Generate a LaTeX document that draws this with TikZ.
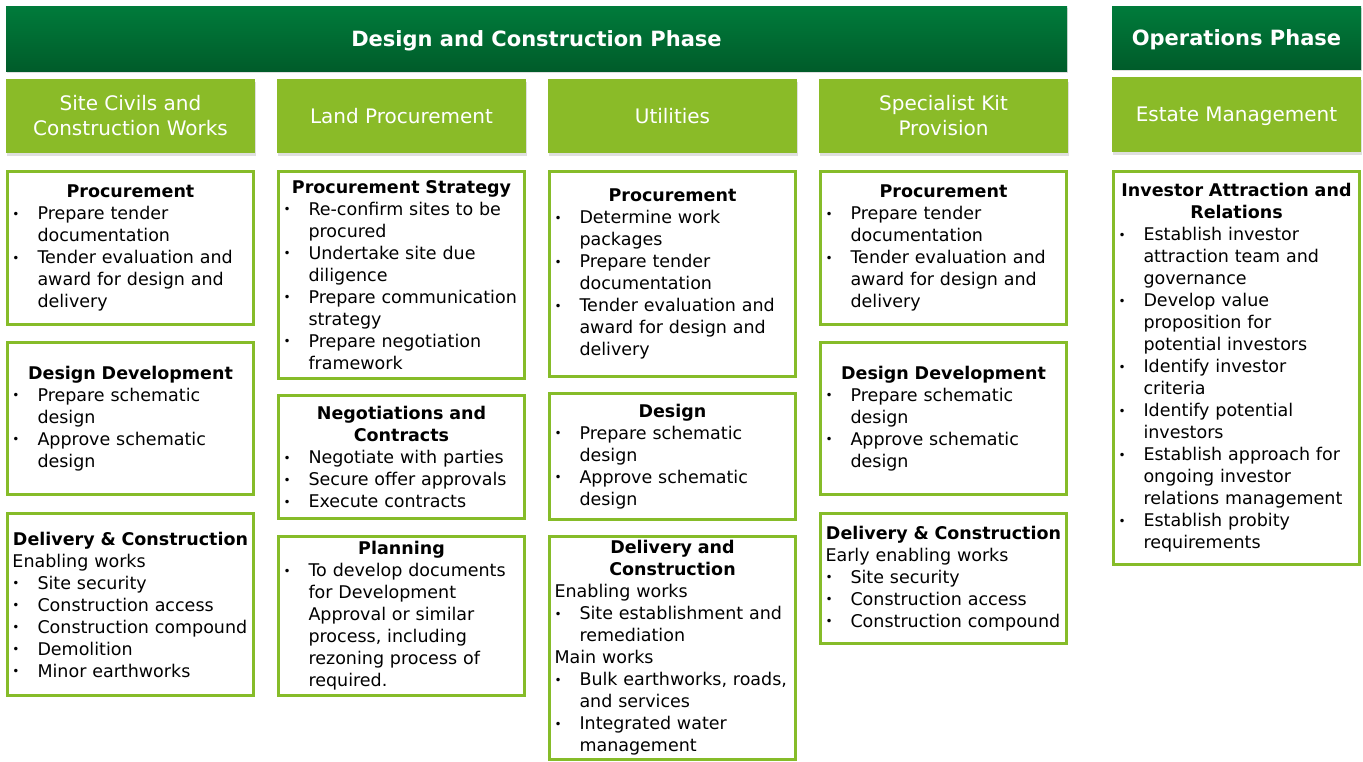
\documentclass[tikz,border=0pt]{standalone}
\usepackage{fontspec}
\setmainfont{DejaVu Sans}
\usetikzlibrary{shadows}

\definecolor{phasetop}{HTML}{007B3B}
\definecolor{phasebot}{HTML}{005C2A}
\definecolor{streamgreen}{HTML}{8ABB28}
\definecolor{edgegreen}{HTML}{86BC29}

% bold centred heading line inside a task box
\newcommand\hd[1]{\makebox[\linewidth]{\bfseries #1}}
% bulleted line and its continuation
\newcommand\bul[1]{\makebox[25pt][l]{\raisebox{1.5pt}{\fontsize{12}{12}\selectfont •}}#1}
\newcommand\cnt[1]{\hspace*{25pt}#1}

\begin{document}
\begin{tikzpicture}[x=1pt,y=-1pt,
  phasebar/.style={rectangle, top color=phasetop, bottom color=phasebot, draw=none,
    text=white, font=\fontsize{21}{25}\selectfont\bfseries,
    text height=19pt, text depth=3.5pt,
    drop shadow={shadow xshift=1pt, shadow yshift=-2pt, opacity=0.25}},
  stream/.style={rectangle, fill=streamgreen, text=white, align=center,
    font=\fontsize{20}{25}\selectfont, minimum width=249pt, minimum height=74pt,
    drop shadow={shadow xshift=1pt, shadow yshift=-2.5pt, opacity=0.25}},
  task/.style={rectangle, draw=edgegreen, line width=3pt, fill=white, text=black,
    align=left, text width=236pt, inner xsep=5pt, inner ysep=0pt,
    minimum width=246pt, font=\fontsize{17.5}{22}\selectfont,
    drop shadow={shadow xshift=1pt, shadow yshift=-1.5pt, opacity=0.12}},
]
\useasboundingbox (0,0) rectangle (1363,761);

% phase bars
\node[phasebar, minimum width=1061pt, minimum height=65pt] (design) at (536.5,38.5) {Design and Construction Phase};
\node[phasebar, minimum width=249pt, minimum height=63pt] (ops) at (1236.5,37.5) {Operations Phase};

% work streams
\node[stream] (civils) at (130.5,116) {Site Civils and\\Construction Works};
\node[stream] (land) at (401.5,116) {Land Procurement};
\node[stream] (util) at (672.5,116) {Utilities};
\node[stream] (kit) at (943.5,116) {Specialist Kit\\Provision};
\node[stream, minimum height=75pt, text height=17pt, text depth=3pt] (estate) at (1236.5,114.5) {Estate Management};

% Site civils column
\node[task, minimum height=153pt] (c1a) at (130.5,248) {%
\hd{Procurement}\\
\bul{Prepare tender}\\
\cnt{documentation}\\
\bul{Tender evaluation and}\\
\cnt{award for design and}\\
\cnt{delivery}};
\node[task, minimum height=152pt] (c1b) at (130.5,418.5) {%
\hd{Design Development}\\
\bul{Prepare schematic}\\
\cnt{design}\\
\bul{Approve schematic}\\
\cnt{design}};
\node[task, minimum height=182pt] (c1c) at (130.5,604.5) {%
\hd{Delivery \& Construction}\\
Enabling works\\
\bul{Site security}\\
\bul{Construction access}\\
\bul{Construction compound}\\
\bul{Demolition}\\
\bul{Minor earthworks}};

% Land procurement column
\node[task, minimum height=207pt] (c2a) at (401.5,275) {%
\hd{Procurement Strategy}\\
\bul{Re-confirm sites to be}\\
\cnt{procured}\\
\bul{Undertake site due}\\
\cnt{diligence}\\
\bul{Prepare communication}\\
\cnt{strategy}\\
\bul{Prepare negotiation}\\
\cnt{framework}};
\node[task, minimum height=123pt] (c2b) at (401.5,457) {%
\hd{Negotiations and}\\
\hd{Contracts}\\
\bul{Negotiate with parties}\\
\bul{Secure offer approvals}\\
\bul{Execute contracts}};
\node[task, minimum height=159pt] (c2c) at (401.5,616) {%
\hd{Planning}\\
\bul{To develop documents}\\
\cnt{for Development}\\
\cnt{Approval or similar}\\
\cnt{process, including}\\
\cnt{rezoning process of}\\
\cnt{required.}};

% Utilities column
\node[task, minimum height=205pt] (c3a) at (672.5,274) {%
\hd{Procurement}\\
\bul{Determine work}\\
\cnt{packages}\\
\bul{Prepare tender}\\
\cnt{documentation}\\
\bul{Tender evaluation and}\\
\cnt{award for design and}\\
\cnt{delivery}};
\node[task, minimum height=126pt] (c3b) at (672.5,456.5) {%
\hd{Design}\\
\bul{Prepare schematic}\\
\cnt{design}\\
\bul{Approve schematic}\\
\cnt{design}};
\node[task, minimum height=223pt] (c3c) at (672.5,648) {%
\hd{Delivery and}\\
\hd{Construction}\\
Enabling works\\
\bul{Site establishment and}\\
\cnt{remediation}\\
Main works\\
\bul{Bulk earthworks, roads,}\\
\cnt{and services}\\
\bul{Integrated water}\\
\cnt{management}};

% Specialist kit column
\node[task, minimum height=153pt] (c4a) at (943.5,248) {%
\hd{Procurement}\\
\bul{Prepare tender}\\
\cnt{documentation}\\
\bul{Tender evaluation and}\\
\cnt{award for design and}\\
\cnt{delivery}};
\node[task, minimum height=152pt] (c4b) at (943.5,418.5) {%
\hd{Design Development}\\
\bul{Prepare schematic}\\
\cnt{design}\\
\bul{Approve schematic}\\
\cnt{design}};
\node[task, minimum height=130pt] (c4c) at (943.5,578.5) {%
\hd{Delivery \& Construction}\\
Early enabling works\\
\bul{Site security}\\
\bul{Construction access}\\
\bul{Construction compound}};

% Estate management column
\node[task, minimum height=393pt] (c5a) at (1236.5,368) {%
\hd{Investor Attraction and}\\
\hd{Relations}\\
\bul{Establish investor}\\
\cnt{attraction team and}\\
\cnt{governance}\\
\bul{Develop value}\\
\cnt{proposition for}\\
\cnt{potential investors}\\
\bul{Identify investor}\\
\cnt{criteria}\\
\bul{Identify potential}\\
\cnt{investors}\\
\bul{Establish approach for}\\
\cnt{ongoing investor}\\
\cnt{relations management}\\
\bul{Establish probity}\\
\cnt{requirements}};
\end{tikzpicture}
\end{document}
